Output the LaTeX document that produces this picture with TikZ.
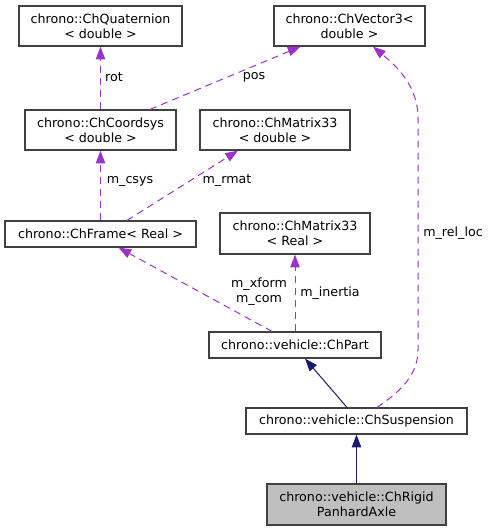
\documentclass[tikz,border=0pt]{standalone}
\usepackage{fontspec}
\setmainfont{DejaVu Sans}
\usetikzlibrary{arrows.meta,calc}
\definecolor{dep}{HTML}{9A32CD}
\definecolor{inh}{HTML}{191970}
\definecolor{boxline}{HTML}{404040}
\definecolor{gfill}{HTML}{BFBFBF}
\begin{document}
\begin{tikzpicture}[x=0.75pt,y=-0.75pt,
  font=\fontsize{9.5pt}{11.25pt}\selectfont,
  cls/.style={draw=boxline,line width=0.9pt,fill=white,align=center,inner sep=0pt},
  depedge/.style={draw=dep,line width=0.75pt,dash pattern=on 5.25pt off 3.75pt,-{Triangle[length=9.5pt,width=7pt,fill=dep]}},
  inhedge/.style={draw=inh,line width=0.75pt,-{Triangle[length=9.5pt,width=7pt,fill=inh]}},
  lbl/.style={inner sep=0pt,align=center}]
\useasboundingbox (0,0) rectangle (491,531);
\node[cls,minimum width={163*0.75pt},minimum height={40*0.75pt}] (quat) at (100.5,26) {chrono::ChQuaternion\\< double >};
\node[cls,minimum width={151*0.75pt},minimum height={40*0.75pt}] (coord) at (100.5,130) {chrono::ChCoordsys\\< double >};
\node[cls,minimum width={151*0.75pt},minimum height={40*0.75pt}] (vec) at (349.5,26) {chrono::ChVector3<\\double >};
\node[cls,minimum width={150*0.75pt},minimum height={40*0.75pt}] (mat1) at (275,130) {chrono::ChMatrix33\\< double >};
\node[cls,minimum width={191*0.75pt},minimum height={26*0.75pt}] (frame) at (100.5,234) {chrono::ChFrame< Real >};
\node[cls,minimum width={150*0.75pt},minimum height={41*0.75pt}] (mat2) at (295,233.5) {chrono::ChMatrix33\\< Real >};
\node[cls,minimum width={172*0.75pt},minimum height={26*0.75pt}] (part) at (295,345) {chrono::vehicle::ChPart};
\node[cls,minimum width={221*0.75pt},minimum height={26*0.75pt}] (susp) at (356.5,421) {chrono::vehicle::ChSuspension};
\node[cls,fill=gfill,minimum width={179*0.75pt},minimum height={41*0.75pt}] (rigid) at (356.5,504.5) {chrono::vehicle::ChRigid\\PanhardAxle};
% dependency edges
\draw[depedge] (coord.north) -- (quat.south);
\node[lbl] (lrot) at (114,77) {rot};
\draw[depedge] ($(coord.north)+(49.5,0)$) -- ($(vec.south)+(-49,0)$);
\node[lbl] (lpos) at (254,77) {pos};
\draw[depedge] (frame.north) -- (coord.south);
\node[lbl] (lcsys) at (130,181) {m\_csys};
\draw[depedge] ($(frame.north)+(26.5,0)$) -- ($(mat1.south)+(-37,0)$);
\node[lbl] (lrmat) at (227,181) {m\_rmat};
\draw[depedge] ($(part.north)+(-23,0)$) -- ($(frame.south)+(18,0)$);
\node[lbl] (lxf) at (259,291.5) {m\_xform\\m\_com};
\draw[depedge] (part.north) -- (mat2.south);
\node[lbl] (liner) at (330,293) {m\_inertia};
\draw[depedge] ($(susp.north)+(20.5,0)$) .. controls (400,392) and (418,375) .. (418,350) -- (418,118) .. controls (418,85) and (395,65) .. ($(vec.south)+(23.5,0)$);
\node[lbl] (lrel) at (453,233) {m\_rel\_loc};
% inheritance
\draw[inhedge] ($(susp.north)+(-9.5,0)$) -- ($(part.south)+(10,0)$);
\draw[inhedge] (rigid.north) -- (susp.south);
\end{tikzpicture}
\end{document}
